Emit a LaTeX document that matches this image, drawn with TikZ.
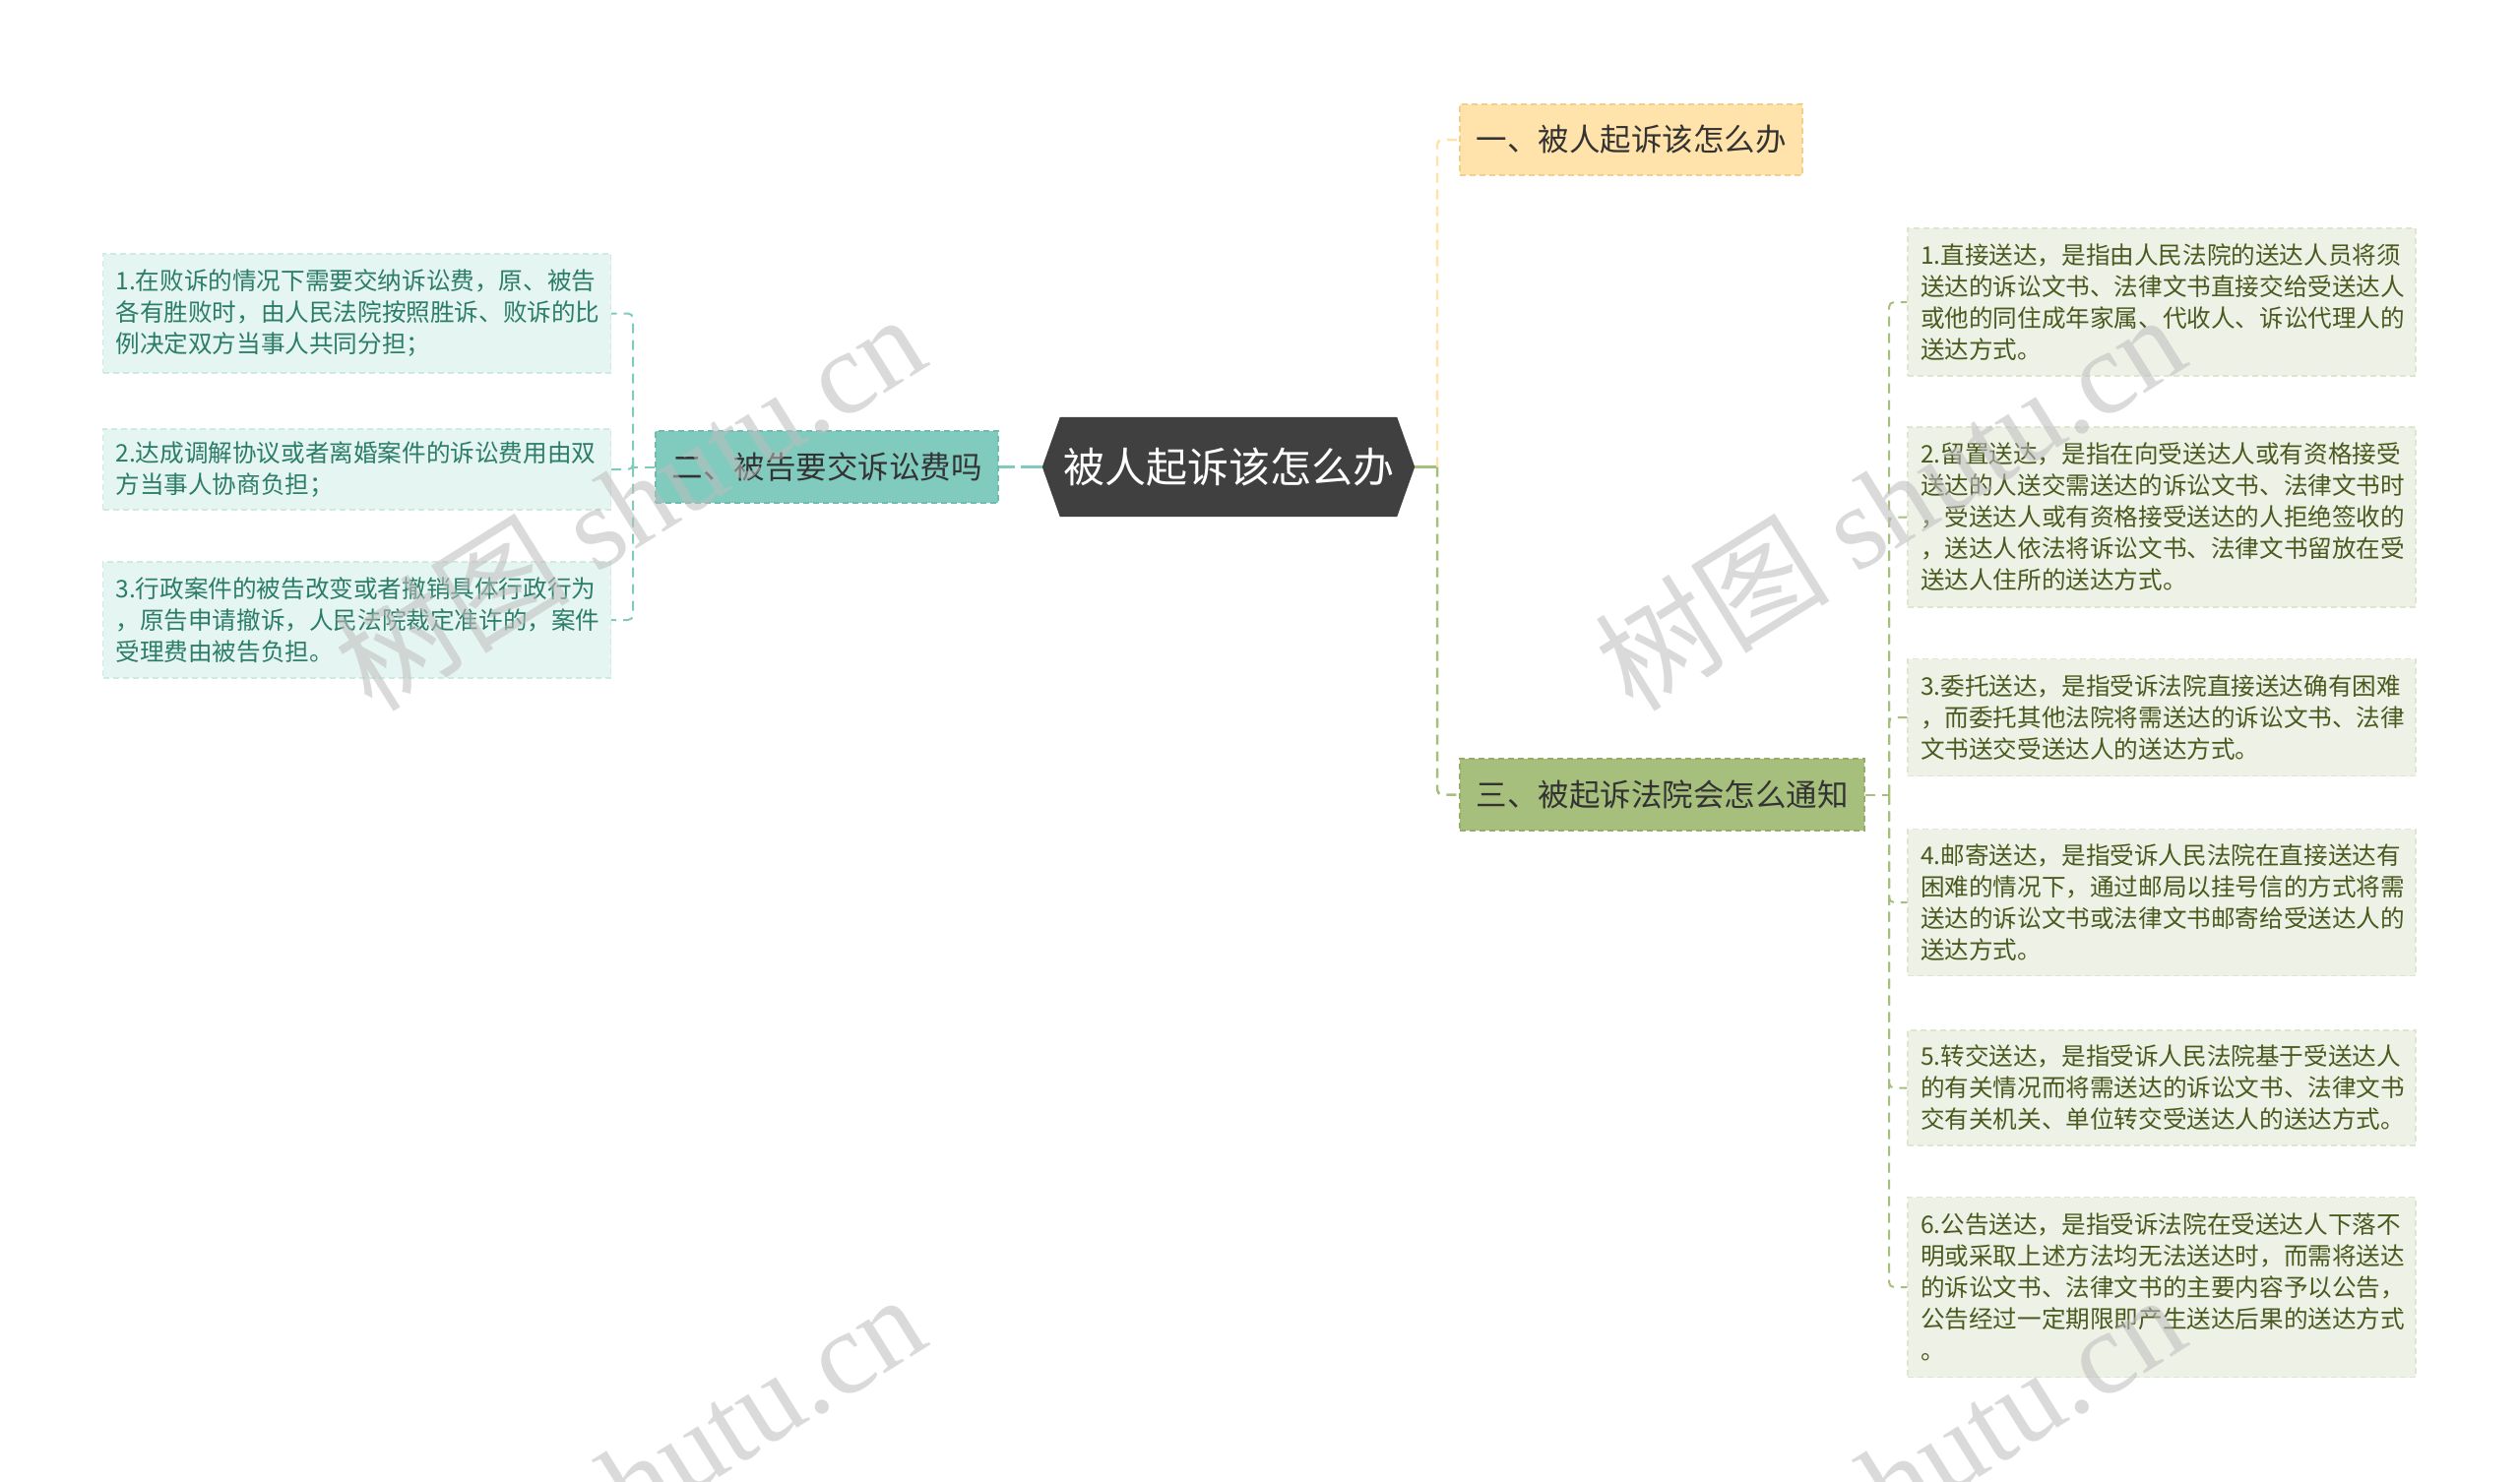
\documentclass[tikz,border=0pt]{standalone}
\usepackage{fontspec}
\setmainfont{Noto Sans CJK SC}
\newfontfamily\wmlatin{Liberation Serif}
\definecolor{hexfill}{HTML}{404040}
\definecolor{tealfill}{HTML}{80CBBE}
\definecolor{tealedge}{HTML}{6DBDAF}
\definecolor{yelfill}{HTML}{FFE3AA}
\definecolor{yeledge}{HTML}{F2D08C}
\definecolor{olvfill}{HTML}{A7BF7C}
\definecolor{olvedge}{HTML}{94AE69}
\definecolor{lleaf}{HTML}{E5F5F1}
\definecolor{lleafedge}{HTML}{CFEAE3}
\definecolor{ltext}{HTML}{2C7D68}
\definecolor{rleaf}{HTML}{EEF2E6}
\definecolor{rleafedge}{HTML}{DEE5D0}
\definecolor{rtext}{HTML}{4A5A1F}
\definecolor{wmgray}{HTML}{BDBDBD}
\tikzset{
  branch/.style={rectangle, draw, dashed, dash pattern=on 6pt off 4pt, line width=1.5pt,
    inner sep=0pt, align=center, text=black!80,
    font=\fontsize{31.5pt}{36pt}\selectfont},
  lbox/.style={rectangle, fill=lleaf, draw=lleafedge, dashed, dash pattern=on 6pt off 4pt, line width=1.2pt,
    minimum width=516pt, text width=490pt, inner xsep=13pt, inner ysep=0pt, align=left,
    text=ltext, font=\fontsize{24.6pt}{32pt}\selectfont},
  rbox/.style={lbox, fill=rleaf, draw=rleafedge, text=rtext},
  conn/.style={dashed, dash pattern=on 10pt off 7pt, line width=2pt, rounded corners=5pt},
  wm/.style={rotate=32, text=wmgray, opacity=0.55, inner sep=0pt,
    font=\fontsize{120pt}{120pt}\selectfont}
}
\begin{document}
\begin{tikzpicture}[x=1pt,y=-1pt]
\useasboundingbox (0,0) rectangle (2560,1505);
\clip (0,0) rectangle (2560,1505);
\fill[white] (0,0) rectangle (2560,1505);

% central node
\node[minimum width=378pt, minimum height=101pt, inner sep=0pt] (c) at (1248,474.5) {};
\fill[hexfill] (c.west) -- ([xshift=18pt]c.north west) -- ([xshift=-18pt]c.north east)
  -- (c.east) -- ([xshift=-18pt]c.south east) -- ([xshift=18pt]c.south west) -- cycle;
\node[text=white, font=\fontsize{42pt}{48pt}\selectfont, inner sep=0pt] (ct) at (c.center) {被人起诉该怎么办};

% branch nodes
\node[branch, fill=tealfill, draw=tealedge, minimum width=348pt, minimum height=73pt] (n2) at (840,474.5) {二、被告要交诉讼费吗};
\node[branch, fill=yelfill, draw=yeledge, minimum width=348pt, minimum height=72pt] (n1) at (1657,142) {一、被人起诉该怎么办};
\node[branch, fill=olvfill, draw=olvedge, minimum width=411pt, minimum height=73pt] (n3) at (1688.5,807.5) {三、被起诉法院会怎么通知};

% left leaves
\node[lbox, minimum height=121pt] (L1) at (362.5,318.5) {1.在败诉的情况下需要交纳诉讼费，原、被告\\各有胜败时，由人民法院按照胜诉、败诉的比\\例决定双方当事人共同分担；};
\node[lbox, minimum height=82pt] (L2) at (362.5,477) {2.达成调解协议或者离婚案件的诉讼费用由双\\方当事人协商负担；};
\node[lbox, minimum height=118pt] (L3) at (362.5,630) {3.行政案件的被告改变或者撤销具体行政行为\\，原告申请撤诉，人民法院裁定准许的，案件\\受理费由被告负担。};

% right leaves
\node[rbox, minimum height=150pt] (R1) at (2196,307) {1.直接送达，是指由人民法院的送达人员将须\\送达的诉讼文书、法律文书直接交给受送达人\\或他的同住成年家属、代收人、诉讼代理人的\\送达方式。};
\node[rbox, minimum height=183pt] (R2) at (2196,525.5) {2.留置送达，是指在向受送达人或有资格接受\\送达的人送交需送达的诉讼文书、法律文书时\\，受送达人或有资格接受送达的人拒绝签收的\\，送达人依法将诉讼文书、法律文书留放在受\\送达人住所的送达方式。};
\node[rbox, minimum height=119pt] (R3) at (2196,729) {3.委托送达，是指受诉法院直接送达确有困难\\，而委托其他法院将需送达的诉讼文书、法律\\文书送交受送达人的送达方式。};
\node[rbox, minimum height=149pt] (R4) at (2196,917) {4.邮寄送达，是指受诉人民法院在直接送达有\\困难的情况下，通过邮局以挂号信的方式将需\\送达的诉讼文书或法律文书邮寄给受送达人的\\送达方式。};
\node[rbox, minimum height=117pt] (R5) at (2196,1105.5) {5.转交送达，是指受诉人民法院基于受送达人\\的有关情况而将需送达的诉讼文书、法律文书\\交有关机关、单位转交受送达人的送达方式。};
\node[rbox, minimum height=183pt] (R6) at (2196,1308) {6.公告送达，是指受诉法院在受送达人下落不\\明或采取上述方法均无法送达时，而需将送达\\的诉讼文书、法律文书的主要内容予以公告，\\公告经过一定期限即产生送达后果的送达方式\\。};

% connectors
\coordinate (lt) at (643,474.5);
\coordinate (tr) at (1460,474.5);
\coordinate (rt) at (1919,807.5);
\draw[tealfill, dashed, dash pattern=on 22pt off 6pt, line width=3.5pt] (c.west) -- (n2.east);
\draw[conn, tealfill] (n2.west) -- (lt);
\draw[conn, tealfill] (lt) |- (L1.east);
\draw[conn, tealfill] (lt) |- (L2.east);
\draw[conn, tealfill] (lt) |- (L3.east);
\draw[olvfill, line width=3pt] (c.east) -- (tr);
\draw[conn, yelfill, line width=2.5pt] (tr) |- (n1.west);
\draw[conn, olvfill, line width=2.5pt] (tr) |- (n3.west);
\draw[conn, olvfill] (n3.east) -- (rt);
\draw[conn, olvfill] (rt) |- (R1.west);
\draw[conn, olvfill] (rt) |- (R2.west);
\draw[conn, olvfill] (rt) |- (R3.west);
\draw[conn, olvfill] (rt) |- (R4.west);
\draw[conn, olvfill] (rt) |- (R5.west);
\draw[conn, olvfill] (rt) |- (R6.west);

% watermarks
\node[wm] (wm1) at (639,509) {树图 {\wmlatin shutu.cn}};
\node[wm] (wm2) at (1919,509) {树图 {\wmlatin shutu.cn}};
\node[wm] (wm3) at (639,1505) {树图 {\wmlatin shutu.cn}};
\node[wm] (wm4) at (1919,1505) {树图 {\wmlatin shutu.cn}};
\end{tikzpicture}
\end{document}
